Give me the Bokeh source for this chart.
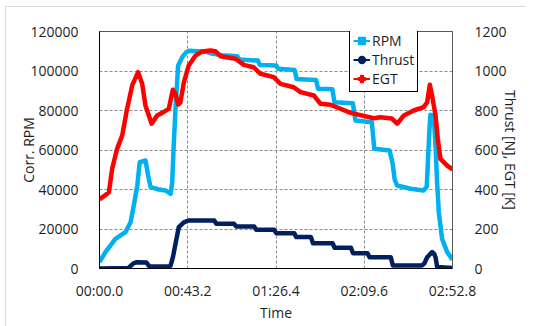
from bokeh.plotting import figure
from bokeh.models import (LinearAxis, Range1d, FixedTicker, Legend, LegendItem,
                          ColumnDataSource)
from bokeh.embed import file_html
from bokeh.resources import INLINE

# ---------------- data (time in seconds) ----------------
rpm_t = [0, 2.9, 7.8, 12.7, 15.2, 16.8, 18.5, 19.7, 22.5, 23.8, 25.0, 29.0, 32.3, 34.8,
         35.6, 36.4, 37.2, 38.5, 40.5, 42.5, 44, 52, 54.3, 60, 67.5, 68.5, 77.5, 78.5,
         86.5, 87.5, 95.5, 96.5, 106, 107, 114, 115, 124, 125.3, 133.3, 134.5, 142,
         143.5, 144.5, 145.7, 152.2, 158.7, 160.2, 160.8, 161.5, 162.0, 163.6, 164.5,
         165.2, 166.1, 167.7, 170.2, 172.8]
rpm_v = [3200, 8300, 15000, 18400, 23400, 31900, 42000, 53800, 54700, 47100, 41200,
         40000, 39500, 37800, 43700, 64000, 80900, 102800, 107000, 109500, 110200,
         109800, 109000, 108000, 107500, 105800, 105300, 103100, 102800, 101100,
         100500, 96000, 95500, 91000, 90800, 84200, 83700, 74900, 74100, 60600, 59700,
         53000, 45000, 42000, 40400, 39500, 41500, 55000, 70000, 77800, 77500, 62000,
         45000, 28500, 15000, 8300, 4500]

thrust_t = [0, 14, 16.5, 18, 23, 24.5, 34, 34.8, 36, 37.2, 38.8, 41.3, 43.6, 56.2, 57.2,
            65.9, 66.9, 75.7, 76.7, 85.5, 86.5, 95.3, 96.3, 103.5, 104.5, 114.1, 115.1,
            123.1, 124.1, 131.2, 132.2, 142.6, 143.6, 157.8, 159, 160.4, 162.8, 163.8,
            164.5, 165.3, 172.8]
thrust_v = [0, 2, 25, 32, 30, 10, 10, 15, 60, 125, 209, 234, 243, 243, 226, 226, 213,
            213, 196, 196, 179, 179, 159, 159, 128, 128, 105, 105, 77, 77, 57, 57, 15,
            15, 25, 57, 83, 75, 57, 7, 3]

egt_t = [0, 2, 4.6, 6.2, 8.6, 11.1, 13.5, 16, 18.9, 20.9, 22.5, 25.5, 28.2, 30.7, 33.9,
         35.9, 37.2, 38.5, 39.6, 41.3, 43.7, 47, 50.3, 54.3, 56.8, 59.2, 66.6, 70.6,
         75.5, 78.8, 85.3, 88.6, 95.1, 98.4, 104.9, 108.2, 113.1, 122.9, 134.3, 137.5,
         143, 145.7, 149, 153.8, 158.7, 160.4, 161.7, 162.8, 164.5, 165.6, 166.9,
         170.2, 172.8]
egt_v = [350, 365, 386, 505, 606, 673, 808, 927, 994, 935, 825, 733, 775, 788, 808, 905,
         885, 830, 840, 943, 1028, 1078, 1099, 1104, 1100, 1075, 1062, 1031, 1019, 986,
         969, 935, 918, 893, 876, 834, 829, 788, 761, 766, 760, 733, 775, 800, 817, 842,
         930, 876, 775, 657, 555, 521, 501]

x_ticks = [0, 43.2, 86.4, 129.6, 172.8]
x_tick_labels = ["00:00.0", "00:43.2", "01:26.4", "02:09.6", "02:52.8"]
left_ticks = [0, 20000, 40000, 60000, 80000, 100000, 120000]
left_tick_labels = ["0", "20000", "40000", "60000", "80000", "100000", "120000"]
right_ticks = [0, 200, 400, 600, 800, 1000, 1200]
right_tick_labels = ["0", "200", "400", "600", "800", "1000", "1200"]

series_names = ["RPM", "Thrust", "EGT"]
colors = ["#00B0F0", "#002060", "#FF0000"]

FONT = "Open Sans"
FS = "14px"
TXT = "#1e1e1e"

bg = ("linear-gradient(#d9d9d9, #d9d9d9) 5px 6px / 1px 320px no-repeat, "
      "linear-gradient(#d9d9d9, #d9d9d9) 5px 6px / 520px 1px no-repeat, white")

p = figure(width=534, height=326, output_backend="svg", toolbar_location=None,
           x_range=Range1d(0, 172.8), y_range=Range1d(0, 120000),
           min_border_left=99, min_border_right=82, min_border_top=31,
           min_border_bottom=58, styles={"background": bg})
p.extra_y_ranges = {"r": Range1d(0, 1200)}
p.background_fill_color = "white"
p.border_fill_color = "white"
p.border_fill_alpha = 0
p.outline_line_color = "#595959"
p.outline_line_width = 1

# axes
for ax in (p.xaxis[0], p.yaxis[0]):
    ax.major_tick_line_color = None
    ax.minor_tick_line_color = None
    ax.major_label_text_font = FONT
    ax.major_label_text_font_size = FS
    ax.major_label_text_color = TXT
    ax.axis_label_text_font = FONT
    ax.axis_label_text_font_size = FS
    ax.axis_label_text_font_style = "normal"
    ax.axis_label_text_color = TXT
    ax.axis_line_color = "black"

p.xaxis[0].ticker = FixedTicker(ticks=x_ticks)
p.xaxis[0].major_label_overrides = dict(zip(x_ticks, x_tick_labels))
p.xaxis[0].axis_label = "Time"
p.xaxis[0].major_label_standoff = 6
p.xaxis[0].axis_label_standoff = 0

p.yaxis[0].ticker = FixedTicker(ticks=left_ticks)
p.yaxis[0].major_label_overrides = dict(zip(left_ticks, left_tick_labels))
p.yaxis[0].axis_label = "Corr. RPM"
p.yaxis[0].major_label_standoff = 15
p.yaxis[0].axis_label_standoff = -11

rax = LinearAxis(y_range_name="r", ticker=FixedTicker(ticks=right_ticks),
                 axis_label="Thrust [N], EGT [K]")
rax.major_label_overrides = dict(zip(right_ticks, right_tick_labels))
rax.major_tick_line_color = None
rax.minor_tick_line_color = None
rax.major_label_text_font = FONT
rax.major_label_text_font_size = FS
rax.major_label_text_color = TXT
rax.axis_label_text_font = FONT
rax.axis_label_text_font_size = FS
rax.axis_label_text_font_style = "normal"
rax.axis_label_text_color = TXT
rax.axis_line_color = "#595959"
rax.major_label_standoff = 16
rax.axis_label_standoff = -9
p.add_layout(rax, "right")

# grid
p.xgrid.ticker = FixedTicker(ticks=x_ticks)
p.ygrid.ticker = FixedTicker(ticks=left_ticks)
for g in (p.xgrid[0], p.ygrid[0]):
    g.grid_line_color = "#8c8c8c"
    g.grid_line_dash = "3 2"
    g.grid_line_width = 1

# data lines
src_rpm = ColumnDataSource(dict(t=rpm_t, v=rpm_v))
src_thr = ColumnDataSource(dict(t=thrust_t, v=thrust_v))
src_egt = ColumnDataSource(dict(t=egt_t, v=egt_v))
p.line("t", "v", source=src_rpm, color=colors[0], line_width=4.5, line_join="round")
p.line("t", "v", source=src_thr, color=colors[1], line_width=4.5, line_join="round",
       y_range_name="r")
p.line("t", "v", source=src_egt, color=colors[2], line_width=4.5, line_join="round",
       y_range_name="r")

# legend glyphs (placed outside the visible ranges, used only for the legend)
markers = ["square", "circle", "plus"]
msizes = [6, 6, 8]
items = []
for name, c, m, s in zip(series_names, colors, markers, msizes):
    l = p.line([-50, -40], [-5000, -5000], color=c, line_width=2)
    sc = p.scatter([-50], [-5000], marker=m, size=s, color=c, line_width=1.5)
    items.append(LegendItem(label=name, renderers=[l, sc]))

leg = Legend(items=items, location=(250, 176))
leg.label_text_font = FONT
leg.label_text_font_size = FS
leg.label_text_color = TXT
leg.border_line_color = "black"
leg.border_line_width = 1
leg.border_line_alpha = 1
leg.background_fill_color = "white"
leg.background_fill_alpha = 1
leg.padding = 3
leg.spacing = 0
leg.margin = 0
leg.label_height = 17
leg.glyph_height = 17
leg.glyph_width = 17
leg.label_standoff = 2
p.add_layout(leg, "center")

open("out.html", "w").write(file_html(p, INLINE))
